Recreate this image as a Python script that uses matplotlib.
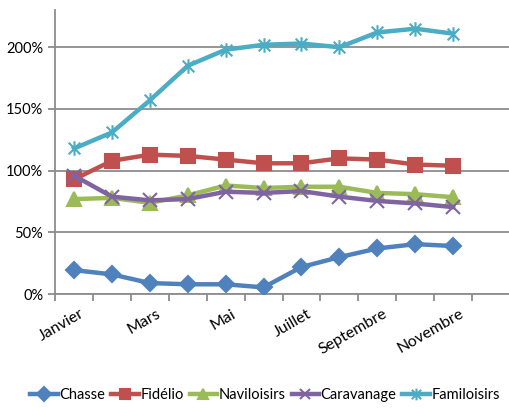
import matplotlib
matplotlib.use('Agg')
import matplotlib.pyplot as plt
from matplotlib.path import Path
from matplotlib.ticker import FuncFormatter

mois = ['Janvier', 'Février', 'Mars', 'Avril', 'Mai', 'Juin', 'Juillet',
        'Août', 'Septembre', 'Octobre', 'Novembre', 'Décembre']

chasse = [19.5, 16, 9, 8, 8, 5.5, 22, 30, 37, 40.5, 39]
fidelio = [93, 108, 113, 112, 109, 106, 106, 110, 109, 105, 104]
naviloisirs = [77, 78, 74, 80, 88, 86, 87, 87, 82, 81, 78.5]
caravanage = [96, 79, 76, 77, 83, 82, 83.5, 79, 75.5, 73.5, 70.5]
familoisirs = [118, 131, 157, 185, 198, 202, 203, 200, 212, 215, 211]

# asterisk marker like Excel's: vertical bar plus an X
asterisk = Path([(0, -1), (0, 1), (-0.8, -0.8), (0.8, 0.8), (-0.8, 0.8), (0.8, -0.8)],
                [Path.MOVETO, Path.LINETO, Path.MOVETO, Path.LINETO, Path.MOVETO, Path.LINETO])

series = [
    ('Chasse', chasse, '#4F81BD', 'D', 8.5),
    ('Fidélio', fidelio, '#C0504D', 's', 9.5),
    ('Naviloisirs', naviloisirs, '#9BBB59', '^', 9.5),
    ('Caravanage', caravanage, '#8064A2', 'x', 9.5),
    ('Familoisirs', familoisirs, '#4BACC6', asterisk, 10.5),
]

plt.rcParams['font.family'] = ['Lato', 'DejaVu Sans']

fig = plt.figure(figsize=(5.1, 4.08), dpi=100)
ax = fig.add_axes([0.108, 0.279, 0.892, 0.696])

x = list(range(len(chasse)))
for name, vals, col, mk, ms in series:
    ax.plot(x, vals, color=col, lw=3.2, marker=mk, markersize=ms,
            markeredgewidth=1.5, markeredgecolor=col, markerfacecolor=col,
            label=name, zorder=3)

ax.set_xlim(-0.5, len(mois) - 0.5)
ax.set_ylim(0, 230)
ax.set_yticks([0, 50, 100, 150, 200])
ax.yaxis.set_major_formatter(FuncFormatter(lambda v, p: f'{v:.0f}%'))
ax.yaxis.grid(True, color='#8C8C8C', lw=1.3)
ax.set_axisbelow(True)

ax.set_xticks([i - 0.5 for i in range(len(mois) + 1)])
ax.set_xticklabels([])
ax.set_xticks([i + 0.15 for i in range(0, len(mois), 2)], minor=True)
ax.set_xticklabels(mois[::2], minor=True, rotation=30, ha='right',
                   rotation_mode='anchor', fontsize=11.5)
ax.tick_params(axis='x', which='minor', length=0, pad=9)
ax.tick_params(axis='x', which='major', length=5, color='#8C8C8C', width=1.3)
ax.tick_params(axis='y', length=5, color='#8C8C8C', width=1.3, labelsize=10.5)

for s in ['top', 'right']:
    ax.spines[s].set_visible(False)
for s in ['left', 'bottom']:
    ax.spines[s].set_color('#8C8C8C')
    ax.spines[s].set_linewidth(1.3)

fig.legend(loc='center', bbox_to_anchor=(0.52, 0.032), ncol=5, frameon=False,
           fontsize=10.5, handlelength=1.9, handletextpad=0.1, columnspacing=0.4,
           markerscale=0.8)

fig.savefig('out.png', dpi=100)
